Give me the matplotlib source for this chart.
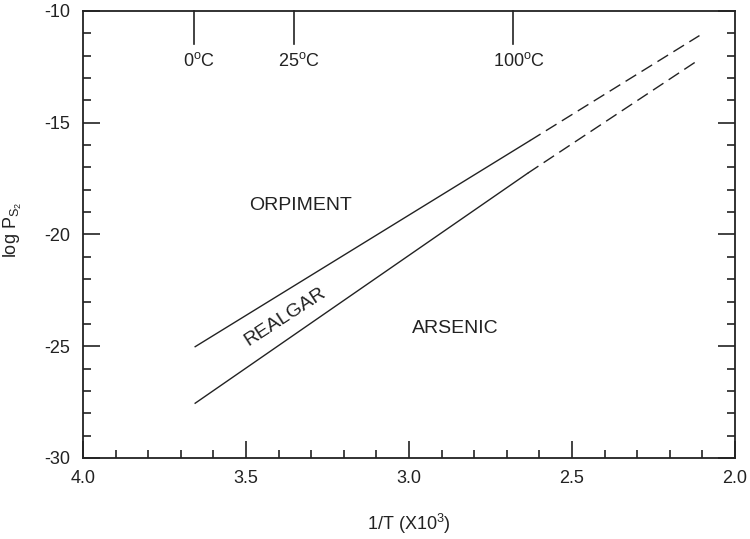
import matplotlib
matplotlib.use("Agg")
import matplotlib.pyplot as plt
from matplotlib.ticker import MultipleLocator
import numpy as np

plt.rcParams['font.family'] = ['Liberation Sans', 'DejaVu Sans']
plt.rcParams['mathtext.fontset'] = 'custom'
plt.rcParams['mathtext.rm'] = 'Liberation Sans'
plt.rcParams['mathtext.it'] = 'Liberation Sans:italic'
plt.rcParams['mathtext.bf'] = 'Liberation Sans:bold'
plt.rcParams['axes.unicode_minus'] = False

# Boundary lines (1/T x10^3, log PS2)
upper_solid_x = [3.656, 2.629]
upper_solid_y = [-25.02, -15.80]
upper_dash_x = [2.629, 2.109]
upper_dash_y = [-15.80, -11.10]

lower_solid_x = [3.656, 2.635]
lower_solid_y = [-27.55, -17.25]
lower_dash_x = [2.635, 2.120]
lower_dash_y = [-17.25, -12.27]

# Temperature markers on top
temps_C = [0, 25, 100]
temp_labels = [r'0$^{\mathrm{o}}$C', r'25$^{\mathrm{o}}$C', r'100$^{\mathrm{o}}$C']

# Field labels
field_names = ['ORPIMENT', 'ARSENIC']
field_x = [3.334, 2.859]
field_y = [-18.71, -24.20]
realgar_xy = (3.380, -23.68)

fig = plt.figure(figsize=(7.5, 5.39), dpi=100)
ax = fig.add_axes([0.1107, 0.1503, 0.8693, 0.8293])

lw = 1.0
ax.plot(upper_solid_x, upper_solid_y, color='#222222', lw=lw)
ax.plot(upper_dash_x, upper_dash_y, color='#222222', lw=lw, dashes=(9, 4.5))
ax.plot(lower_solid_x, lower_solid_y, color='#222222', lw=lw)
ax.plot(lower_dash_x, lower_dash_y, color='#222222', lw=lw, dashes=(9, 4.5))

ax.set_xlim(4.0, 2.0)
ax.set_ylim(-30, -10)

ax.xaxis.set_major_locator(MultipleLocator(0.5))
ax.xaxis.set_minor_locator(MultipleLocator(0.1))
ax.yaxis.set_major_locator(MultipleLocator(5))
ax.yaxis.set_minor_locator(MultipleLocator(1))
ax.xaxis.set_major_formatter(matplotlib.ticker.FormatStrFormatter('%.1f'))
ax.yaxis.set_major_formatter(matplotlib.ticker.FormatStrFormatter('%d'))

ax.tick_params(which='both', direction='in', top=False, right=True,
               colors='#222222', width=1.2, labelsize=13)
ax.tick_params(which='major', length=12, pad=9)
ax.tick_params(which='minor', length=6)
for s in ax.spines.values():
    s.set_linewidth(1.3)
    s.set_color('#222222')

# Temperature ticks on top
tx = [1000.0 / (t + 273.15) for t in temps_C]
for x, lab in zip(tx, temp_labels):
    ax.plot([x, x], [1.0, 0.926], transform=ax.get_xaxis_transform(),
            color='#222222', lw=1.2, clip_on=False)
    ax.annotate(lab, xy=(x, 1.0), xycoords=('data', 'axes fraction'),
                xytext=(4, -36), textcoords='offset points',
                ha='center', va='center', fontsize=13, color='#222222')

for name, x, y in zip(field_names, field_x, field_y):
    ax.text(x, y, name, ha='center', va='center', fontsize=14, color='#222222')
ax.text(realgar_xy[0], realgar_xy[1], 'REALGAR', ha='center', va='center',
        fontsize=14, rotation=33, rotation_mode='anchor', color='#222222')

ax.set_xlabel(r'1/T (X10$^{3}$)', fontsize=13, color='#222222')
ax.set_ylabel(r'log P$_{\mathrm{S}_2}$', fontsize=13, color='#222222')
ax.xaxis.set_label_coords(0.5, -0.12)
ax.yaxis.set_label_coords(-0.09, 0.51)

fig.savefig('out.png', dpi=100)
